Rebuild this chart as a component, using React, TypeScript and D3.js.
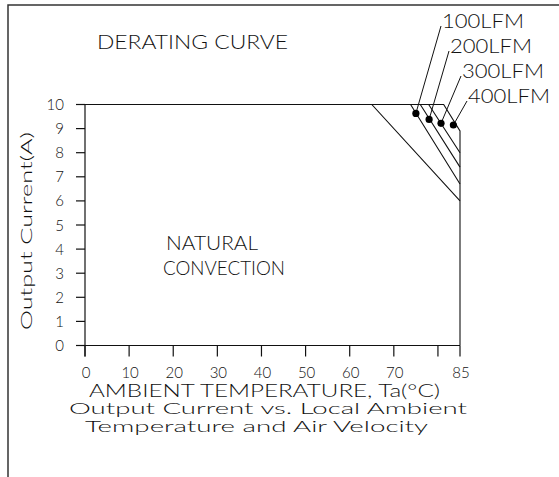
import React from "react";
import * as d3 from "d3";

// ---- data ----
const xTicks = [0, 10, 20, 30, 40, 50, 60, 70, 80, 85];
const xTickLabels = ["0", "10", "20", "30", "40", "50", "60", "70", "", "85"];
const yTicks = [0, 1, 2, 3, 4, 5, 6, 7, 8, 9, 10];
const naturalTemp = [0, 65, 85];
const naturalCurrent = [10, 10, 6];
const lfm100Temp = [0, 73.8, 85];
const lfm100Current = [10, 10, 6.7];
const lfm200Temp = [0, 76, 85];
const lfm200Current = [10, 10, 7.4];
const lfm300Temp = [0, 77.9, 85];
const lfm300Current = [10, 10, 8.0];
const lfm400Temp = [0, 81.3, 85, 85];
const lfm400Current = [10, 10, 8.9, 0];
const seriesNames = ["100LFM", "200LFM", "300LFM", "400LFM"];
const dotTemp = [75.0, 78.0, 80.7, 83.5];
const dotCurrent = [9.63, 9.38, 9.22, 9.15];

// ---- layout ----
const W = 559;
const H = 477;
const FONT = "Lato, 'Liberation Sans', Arial, sans-serif";
const INK = "#111";
const labelPos = [
  { x: 442, y: 28 },
  { x: 450, y: 53 },
  { x: 462, y: 78 },
  { x: 468, y: 103 },
];

export default function App() {
  const x = d3.scaleLinear().domain([0, 85]).range([85, 460]);
  const y = d3.scaleLinear().domain([0, 10]).range([345.5, 104.5]);
  const line = d3
    .line<[number, number]>()
    .x((d) => x(d[0]))
    .y((d) => y(d[1]));
  const zip = (a: number[], b: number[]) => a.map((v, i) => [v, b[i]] as [number, number]);
  const curves = [
    zip(naturalTemp, naturalCurrent),
    zip(lfm100Temp, lfm100Current),
    zip(lfm200Temp, lfm200Current),
    zip(lfm300Temp, lfm300Current),
    zip(lfm400Temp, lfm400Current),
  ];
  return (
    <svg
      width={W}
      height={H}
      style={{ position: "absolute", left: 0, top: 0, background: "#fff" }}
      fontFamily={FONT}
      fontWeight={300}
    >
      {/* frame */}
      <path d={`M8,${H} L8,5 L${W},5`} fill="none" stroke="#333" strokeWidth={1.5} />

      {/* axes */}
      <line x1={x(0)} x2={x(0)} y1={y(10)} y2={y(0) + 11} stroke={INK} strokeWidth={1.2} />
      <line x1={x(0) - 9} x2={x(85)} y1={y(0)} y2={y(0)} stroke={INK} strokeWidth={1.2} />
      {yTicks.map((t) => (
        <g key={"y" + t}>
          <line x1={x(0) - 9} x2={x(0)} y1={y(t)} y2={y(t)} stroke={INK} strokeWidth={1.2} />
          <text x={64} y={y(t) + 5.5} textAnchor="end" fontSize={15} fill={INK}>
            {t}
          </text>
        </g>
      ))}
      {xTicks.map((t, i) => (
        <g key={"x" + t}>
          <line x1={x(t)} x2={x(t)} y1={y(0)} y2={y(0) + 11} stroke={INK} strokeWidth={1.2} />
          <text x={x(t) + 1} y={378} textAnchor="middle" fontSize={15} fill={INK}>
            {xTickLabels[i]}
          </text>
        </g>
      ))}

      {/* curves */}
      {curves.map((c, i) => (
        <path key={"c" + i} d={line(c) || ""} fill="none" stroke={INK} strokeWidth={1.1} />
      ))}

      {/* dots and leaders */}
      {dotTemp.map((t, i) => (
        <g key={"d" + i}>
          <line
            x1={labelPos[i].x - 1}
            y1={labelPos[i].y - 2}
            x2={x(t)}
            y2={y(dotCurrent[i])}
            stroke={INK}
            strokeWidth={1}
          />
          <circle cx={x(t)} cy={y(dotCurrent[i])} r={3.6} fill="#000" />
          <text x={labelPos[i].x} y={labelPos[i].y} fontSize={20} fill={INK} textLength={82} lengthAdjust="spacingAndGlyphs">
            {seriesNames[i]}
          </text>
        </g>
      ))}

      {/* titles */}
      <text x={97} y={49} fontSize={20} fill={INK} textLength={191} lengthAdjust="spacingAndGlyphs">
        DERATING CURVE
      </text>
      <text x={166} y={250} fontSize={20} fill={INK} textLength={92} lengthAdjust="spacingAndGlyphs">
        NATURAL
      </text>
      <text x={163} y={275} fontSize={20} fill={INK} textLength={122} lengthAdjust="spacingAndGlyphs">
        CONVECTION
      </text>
      <text
        transform={`translate(32,${(y(0) + y(10)) / 2 + 6}) rotate(-90)`}
        textAnchor="middle"
        fontSize={15}
        fill={INK}
        textLength={198}
        lengthAdjust="spacingAndGlyphs"
      >
        Output Current(A)
      </text>
      <text x={89} y={397} fontSize={18} fill={INK} textLength={351} lengthAdjust="spacingAndGlyphs">
        AMBIENT TEMPERATURE, Ta(°C)
      </text>
      <text x={69} y={414} fontSize={16} fill={INK} textLength={398} lengthAdjust="spacingAndGlyphs">
        Output Current vs. Local Ambient
      </text>
      <text x={85} y={432} fontSize={16} fill={INK} textLength={343} lengthAdjust="spacingAndGlyphs">
        Temperature and Air Velocity
      </text>
    </svg>
  );
}
